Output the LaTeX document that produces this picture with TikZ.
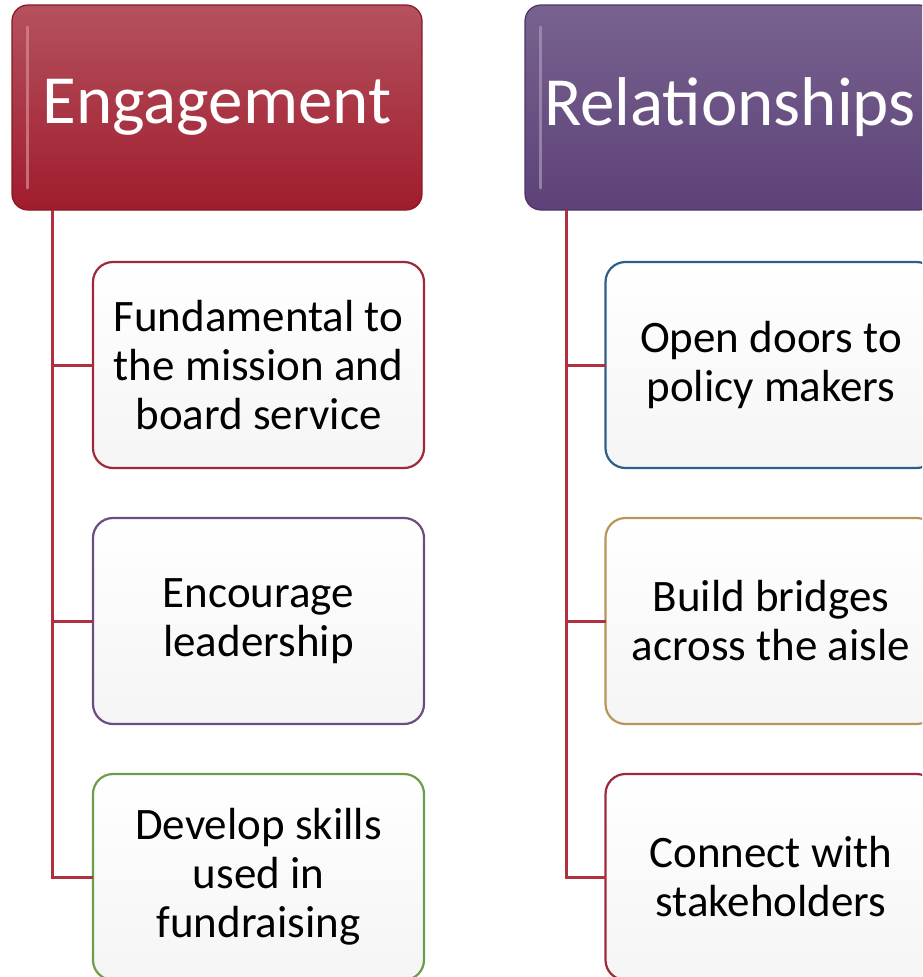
\documentclass[tikz,border=0pt]{standalone}
\usepackage{fontspec}
\setmainfont{Carlito}
\definecolor{engTop}{HTML}{B4525E}
\definecolor{engBot}{HTML}{A01C2D}
\definecolor{engEdge}{HTML}{8A1624}
\definecolor{engHi}{HTML}{D98A92}
\definecolor{relTop}{HTML}{78638F}
\definecolor{relBot}{HTML}{5D4178}
\definecolor{relEdge}{HTML}{4D3566}
\definecolor{relHi}{HTML}{A898BC}
\definecolor{connC}{HTML}{B0303F}
\definecolor{bRed}{HTML}{A0283A}
\definecolor{bPurple}{HTML}{6B4C83}
\definecolor{bGreen}{HTML}{6E9C4C}
\definecolor{bBlue}{HTML}{2E5E8A}
\definecolor{bGold}{HTML}{B8965A}
\tikzset{
  header/.style={rounded corners=16pt, minimum width=410pt, minimum height=205pt,
    inner sep=0pt, outer sep=0pt, text=white, line width=1.2pt,
    font=\fontsize{69}{80}\selectfont},
  childbox/.style={draw, rounded corners=20pt, minimum width=331pt, minimum height=206pt,
    inner sep=0pt, outer sep=0pt, line width=2.2pt, top color=white, bottom color=black!4,
    align=center, font=\fontsize{45}{49}\selectfont},
  conn/.style={draw=connC, line width=3pt},
  hilite/.style={line width=3pt, line cap=round, opacity=0.7}
}
\begin{document}
\begin{tikzpicture}[x=1pt,y=-1pt]
\useasboundingbox (0,0) rectangle (922,977);
\clip (0,0) rectangle (922,977);
% headers
\node[header, draw=engEdge, top color=engTop, bottom color=engBot] (E) at (217,107.5) {\raisebox{-3pt}{Engagement}};
\node[header, draw=relEdge, top color=relTop, bottom color=relBot] (R) at (730,107.5) {\raisebox{-3pt}{Relationships}};
\draw[hilite, draw=engHi] ([xshift=15pt,yshift=-22pt]E.north west) -- ([xshift=15pt,yshift=22pt]E.south west);
\draw[hilite, draw=relHi] ([xshift=15pt,yshift=-22pt]R.north west) -- ([xshift=15pt,yshift=22pt]R.south west);
% left children
\node[childbox, draw=bRed] (e1) at (258.5,365) {Fundamental to\\the mission and\\board service};
\node[childbox, draw=bPurple] (e2) at (258.5,621) {Encourage\\leadership};
\node[childbox, draw=bGreen] (e3) at (258.5,877) {Develop skills\\used in\\fundraising};
% right children
\node[childbox, draw=bBlue] (r1) at (771,365) {Open doors to\\policy makers};
\node[childbox, draw=bGold] (r2) at (771,621) {Build bridges\\across the aisle};
\node[childbox, draw=bRed] (r3) at (771,877) {Connect with\\stakeholders};
% connectors
\coordinate (es) at (52,210);
\coordinate (rs) at (566,210);
\draw[conn] (es) |- (e3.west);
\draw[conn] (e1.west) -- (e1.west -| es);
\draw[conn] (e2.west) -- (e2.west -| es);
\draw[conn] (rs) |- (r3.west);
\draw[conn] (r1.west) -- (r1.west -| rs);
\draw[conn] (r2.west) -- (r2.west -| rs);
\end{tikzpicture}
\end{document}
